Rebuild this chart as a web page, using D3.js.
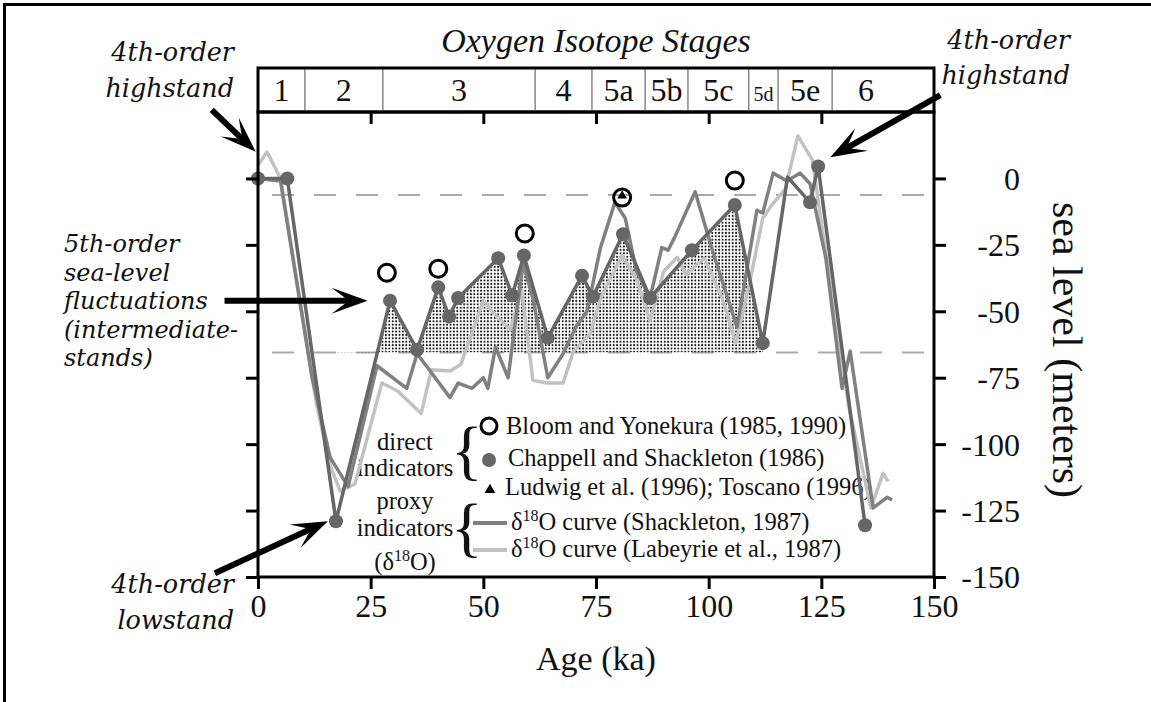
<!DOCTYPE html>
<html>
<head>
<meta charset="utf-8">
<title>Sea level and oxygen isotope stages</title>
<script src="https://d3js.org/d3.v7.min.js"></script>
<style>
    body { margin: 0; background: #fff; }
    svg text { font-family: "Liberation Serif", "Times New Roman", serif; fill: #111; }
    .note { font-family: "DejaVu Serif", serif; font-style: italic; font-size: 25.5px; }
    .note.tight { font-size: 24px; }
    .axis path.domain { display: none; }
    .axis line { stroke: #000; stroke-width: 3; }
</style>
</head>
<body>
<div id="chart"></div>
<script>
// ---- data ----
var stageNames = ['1', '2', '3', '4', '5a', '5b', '5c', '5d', '5e', '6'];
var stageBounds = [0, 10.4, 27.7, 61.5, 74.1, 85.9, 95.4, 108.9, 115.4, 127.4, 150];

var xTicks = [0, 25, 50, 75, 100, 125, 150];
var yTicks = [0, -25, -50, -75, -100, -125, -150];
var dashedLevels = [-6.2, -65.5];

// Chappell and Shackleton (1986), filled dots
var chappellAge   = [0, 6.5, 17.3, 29.3, 35.3, 40, 42.4, 44.4, 53.3, 56.4, 59, 64.3, 71.9, 74.3, 81, 87, 96.3, 105.8, 112, 122.5, 124.3, 134.7];
var chappellLevel = [0, 0, -129, -46, -64.5, -41, -52, -45, -30, -44, -29, -60, -36.6, -44.5, -21, -45, -27, -10, -62, -9, 4.5, -130.5];
// the dark line joining them also bends at 117.5 ka, where there is no dot
var chappellLineAge   = [0, 6.5, 17.3, 29.3, 35.3, 40, 42.4, 44.4, 53.3, 56.4, 59, 64.3, 71.9, 74.3, 81, 87, 96.3, 105.8, 112, 117.5, 122.5, 124.3, 134.7];
var chappellLineLevel = [0, 0, -129, -46, -64.5, -41, -52, -45, -30, -44, -29, -60, -36.6, -44.5, -21, -45, -27, -10, -62, 0.5, -9, 4.5, -130.5];

// Bloom and Yonekura (1985, 1990), open circles
var bloomAge   = [28.6, 40, 59.2, 80.8, 105.8];
var bloomLevel = [-35.5, -34, -20.7, -7.2, -0.8];

// Ludwig et al. (1996); Toscano (1996), triangle
var ludwigAge   = [80.8];
var ludwigLevel = [-6.5];

// d18O curve (Shackleton, 1987)
var shackAge   = [0, 5, 12, 16, 20, 26.4, 33, 35.3, 38, 42.6, 44.4, 47.5, 50, 51, 52.7, 55.5, 58.8, 61, 64.3, 67.7, 70.5, 73, 76, 79.2, 81.5, 84, 87, 89.6, 91, 92.5, 97, 101, 106.3, 110.7, 112, 114.3, 117.4, 120.3, 122.5, 126, 129.6, 131.4, 136.5, 139.6, 140.7];
var shackLevel = [0, -1, -75, -105, -116, -70.5, -79, -66, -72, -82.5, -77, -79, -75, -79, -63.5, -75, -32, -45, -75, -66, -56, -50, -26, -9, -15, -35, -45, -26, -27, -22, -5, -28, -56, -12, -13, 2, -1, 2, -2, -30, -79, -65, -124, -120, -121];

// d18O curve (Labeyrie et al., 1987)
var labAge   = [0, 2, 5, 13, 16, 18.2, 21.5, 27.5, 31, 36.2, 38.5, 42.6, 45, 50, 53, 56, 58.5, 61, 64, 67.7, 70, 73.7, 76, 80.8, 84, 87, 90, 93, 95, 99, 103, 106, 109, 112, 114, 117, 119.8, 123, 127, 131, 136, 138.7, 139.8];
var labLevel = [5, 10, 0, -85, -108, -117.6, -115, -77, -80, -88.5, -72, -72.5, -70, -46, -52, -57, -42, -76, -77, -77, -65, -58.5, -45, -29, -38, -53.5, -35, -29.7, -36, -30, -45, -62, -40, -15, -10, -4, 16, 7, -40, -85, -124, -111, -114];

// ---- layout ----
var width = 1151, height = 702;
var x = d3.scaleLinear().domain([0, 150]).range([258, 934]);
var y = d3.scaleLinear().domain([-150, 25]).range([577, 112]);

var svg = d3.select('#chart').append('svg')
    .attr('width', width)
    .attr('height', height);

// page frame (top and left edge of the scanned figure)
svg.append('path')
    .attr('d', 'M4.5,' + height + ' V4.5 H' + width)
    .attr('fill', 'none')
    .attr('stroke', '#000')
    .attr('stroke-width', 3);

var defs = svg.append('defs');
var pat = defs.append('pattern')
    .attr('id', 'dots')
    .attr('patternUnits', 'userSpaceOnUse')
    .attr('width', 3.4)
    .attr('height', 3.4);
pat.append('circle')
    .attr('cx', 1.7).attr('cy', 1.7).attr('r', 1.0)
    .attr('fill', '#111');

var fillBase = dashedLevels[1];
var fillEnd = chappellAge[18];
defs.append('clipPath').attr('id', 'fillClip')
    .append('rect')
    .attr('x', x(chappellAge[2]))
    .attr('y', y(25))
    .attr('width', x(fillEnd) - x(chappellAge[2]))
    .attr('height', y(fillBase) - y(25));

// dashed reference levels
svg.selectAll('.dash')
    .data(dashedLevels)
    .enter()
    .append('line')
    .attr('class', 'dash')
    .attr('x1', x(0)).attr('x2', x(150))
    .attr('y1', function (d) { return y(d); })
    .attr('y2', function (d) { return y(d); })
    .attr('stroke', '#aaa')
    .attr('stroke-width', 2)
    .attr('stroke-dasharray', '22,20')
    .attr('stroke-dashoffset', -14);

// dotted intermediate-stand area
var chappell = d3.zip(chappellAge, chappellLevel);
var area = d3.area()
    .x(function (d) { return x(d[0]); })
    .y0(y(fillBase))
    .y1(function (d) { return y(d[1]); });
svg.append('path')
    .datum(chappell.filter(function (d) { return d[0] >= chappellAge[2] && d[0] <= fillEnd; }))
    .attr('d', area)
    .attr('fill', 'url(#dots)')
    .attr('clip-path', 'url(#fillClip)');

// ---- legend (drawn under the curves, as in the figure) ----
var leg = svg.append('g').attr('font-size', 24.5);
function centered(txt, cx, by) {
    return leg.append('text').attr('x', cx).attr('y', by).attr('text-anchor', 'middle').text(txt);
}
centered('direct', 405, 450);
centered('indicators', 405, 476);
centered('proxy', 405, 509);
centered('indicators', 405, 536);
var d18 = leg.append('text').attr('x', 405).attr('y', 570).attr('text-anchor', 'middle');
d18.append('tspan').text('(δ');
d18.append('tspan').attr('font-size', 16).attr('dy', -9).text('18');
d18.append('tspan').attr('dy', 9).text('O)');

leg.append('text').attr('x', 451).attr('y', 472).attr('font-size', 66).text('{');
leg.append('text').attr('x', 451).attr('y', 549).attr('font-size', 66).text('{');

leg.append('circle').attr('cx', 489).attr('cy', 426).attr('r', 8)
    .attr('fill', 'none').attr('stroke', '#000').attr('stroke-width', 3);
leg.append('text').attr('x', 506).attr('y', 434).text('Bloom and Yonekura (1985, 1990)');
leg.append('circle').attr('cx', 489).attr('cy', 460).attr('r', 7).attr('fill', '#666');
leg.append('text').attr('x', 508).attr('y', 466).text('Chappell and Shackleton (1986)');
leg.append('path').attr('d', d3.symbol(d3.symbolTriangle, 50)())
    .attr('transform', 'translate(490,490)').attr('fill', '#000');
leg.append('text').attr('x', 505).attr('y', 495).text('Ludwig et al. (1996); Toscano (1996)');

function curveEntry(by, colour, rest) {
    leg.append('line').attr('x1', 473).attr('x2', 507).attr('y1', by - 7).attr('y2', by - 7)
        .attr('stroke', colour).attr('stroke-width', 4);
    var t = leg.append('text').attr('x', 511).attr('y', by);
    t.append('tspan').text('δ');
    t.append('tspan').attr('font-size', 16).attr('dy', -9).text('18');
    t.append('tspan').attr('dy', 9).text('O ' + rest);
}
curveEntry(530, '#808080', 'curve (Shackleton, 1987)');
curveEntry(557, '#c2c2c2', 'curve (Labeyrie et al., 1987)');

// ---- curves ----
var line = d3.line()
    .x(function (d) { return x(d[0]); })
    .y(function (d) { return y(d[1]); });

svg.append('path')
    .datum(d3.zip(labAge, labLevel))
    .attr('d', line)
    .attr('fill', 'none')
    .attr('stroke', '#c2c2c2')
    .attr('stroke-width', 3.5)
    .attr('stroke-linejoin', 'round');

svg.append('path')
    .datum(d3.zip(shackAge, shackLevel))
    .attr('d', line)
    .attr('fill', 'none')
    .attr('stroke', '#808080')
    .attr('stroke-width', 3.5)
    .attr('stroke-linejoin', 'round');

svg.append('path')
    .datum(d3.zip(chappellLineAge, chappellLineLevel))
    .attr('d', line)
    .attr('fill', 'none')
    .attr('stroke', '#666')
    .attr('stroke-width', 3.5)
    .attr('stroke-linejoin', 'round');

svg.selectAll('.chap')
    .data(chappell)
    .enter()
    .append('circle')
    .attr('class', 'chap')
    .attr('cx', function (d) { return x(d[0]); })
    .attr('cy', function (d) { return y(d[1]); })
    .attr('r', 7)
    .attr('fill', '#666');

svg.selectAll('.bloom')
    .data(d3.zip(bloomAge, bloomLevel))
    .enter()
    .append('circle')
    .attr('class', 'bloom')
    .attr('cx', function (d) { return x(d[0]); })
    .attr('cy', function (d) { return y(d[1]); })
    .attr('r', 8.5)
    .attr('fill', 'none')
    .attr('stroke', '#000')
    .attr('stroke-width', 3);

svg.selectAll('.ludwig')
    .data(d3.zip(ludwigAge, ludwigLevel))
    .enter()
    .append('path')
    .attr('class', 'ludwig')
    .attr('d', d3.symbol(d3.symbolTriangle, 40)())
    .attr('transform', function (d) { return 'translate(' + x(d[0]) + ',' + y(d[1]) + ')'; })
    .attr('fill', '#000');

// ---- axes and frame ----
svg.append('rect')
    .attr('x', x(0)).attr('y', y(25))
    .attr('width', x(150) - x(0)).attr('height', y(-150) - y(25))
    .attr('fill', 'none').attr('stroke', '#000').attr('stroke-width', 3);

var xAxis = d3.axisBottom(x).tickValues(xTicks).tickSize(12).tickPadding(5)
    .tickFormat(function (d) { return String(d); });
svg.append('g')
    .attr('class', 'axis')
    .attr('transform', 'translate(0,' + y(-150) + ')')
    .call(xAxis)
    .selectAll('text')
    .style('font-family', '"Liberation Serif", serif')
    .attr('font-size', 32)
    .attr('fill', '#111');

svg.append('g')
    .attr('class', 'axis')
    .attr('transform', 'translate(0,' + y(25) + ')')
    .call(d3.axisBottom(x).tickValues(xTicks.slice(1, -1)).tickSize(12).tickFormat(''));

svg.append('g')
    .attr('class', 'axis')
    .attr('transform', 'translate(' + x(0) + ',0)')
    .call(d3.axisLeft(y).tickValues(yTicks).tickSize(12).tickFormat(''));

var yAxis = d3.axisRight(y).tickValues(yTicks).tickSize(12)
    .tickFormat(function (d) { return String(d); });
svg.append('g')
    .attr('class', 'axis')
    .attr('transform', 'translate(' + x(150) + ',0)')
    .call(yAxis)
    .selectAll('text')
    .attr('x', 86)
    .attr('dy', '0.34em')
    .style('text-anchor', 'end')
    .style('font-family', '"Liberation Serif", serif')
    .attr('font-size', 32)
    .attr('fill', '#111');

svg.append('text')
    .attr('x', (x(0) + x(150)) / 2)
    .attr('y', 670)
    .attr('text-anchor', 'middle')
    .attr('font-size', 34)
    .text('Age (ka)');

svg.append('text')
    .attr('transform', 'translate(1068,350) rotate(90)')
    .attr('dy', '0.35em')
    .attr('text-anchor', 'middle')
    .attr('font-size', 42)
    .text('sea level (meters)');

// ---- oxygen isotope stage bar ----
var barTop = 68;
svg.append('text')
    .attr('x', (x(0) + x(150)) / 2)
    .attr('y', 52)
    .attr('text-anchor', 'middle')
    .attr('font-size', 34)
    .style('font-style', 'italic')
    .text('Oxygen Isotope Stages');

svg.selectAll('.stageLine')
    .data(stageBounds.slice(1, -1))
    .enter()
    .append('line')
    .attr('class', 'stageLine')
    .attr('x1', function (d) { return x(d); })
    .attr('x2', function (d) { return x(d); })
    .attr('y1', barTop).attr('y2', y(25))
    .attr('stroke', '#888')
    .attr('stroke-width', 1.5);

svg.selectAll('.stageName')
    .data(stageNames)
    .enter()
    .append('text')
    .attr('class', 'stageName')
    .attr('x', function (d, i) {
        var cx = x((stageBounds[i] + stageBounds[i + 1]) / 2);
        // the last label sits left of centre, clear of the arrow
        return d === '6' ? cx - 17 : cx;
    })
    .attr('y', 101)
    .attr('text-anchor', 'middle')
    .attr('font-size', function (d) { return d === '5d' ? 20 : 32; })
    .text(function (d) { return d; });

svg.append('rect')
    .attr('x', x(0)).attr('y', barTop)
    .attr('width', x(150) - x(0)).attr('height', y(25) - barTop)
    .attr('fill', 'none').attr('stroke', '#000').attr('stroke-width', 3);

// ---- annotations ----
function note(lines, ax, by, anchor, step, cls) {
    var t = svg.append('text').attr('class', 'note ' + (cls || '')).attr('text-anchor', anchor);
    lines.forEach(function (s, i) {
        t.append('tspan').attr('x', ax).attr('y', by + i * step).text(s);
    });
}
note(['4th-order', 'highstand'], 234, 61, 'end', 36);
note(['5th-order', 'sea-level', 'fluctuations', '(intermediate-', 'stands)'], 64, 252, 'start', 28.5, 'tight');
note(['4th-order', 'lowstand'], 234, 593, 'end', 36);
note(['4th-order', 'highstand'], 1070, 49, 'end', 35);

function arrow(tip, dx, dy) {
    var sx = tip[0] + dx, sy = tip[1] + dy;
    var ang = Math.atan2(-dy, -dx);
    svg.append('line')
        .attr('x1', sx).attr('y1', sy)
        .attr('x2', tip[0] - 20 * Math.cos(ang))
        .attr('y2', tip[1] - 20 * Math.sin(ang))
        .attr('stroke', '#000').attr('stroke-width', 6);
    svg.append('path')
        .attr('d', 'M0,0 L-36,-13 L-22,-2.5 L-22,2.5 L-36,13 Z')
        .attr('transform', 'translate(' + tip[0] + ',' + tip[1] + ') rotate(' + ang * 180 / Math.PI + ')')
        .attr('fill', '#000');
}
arrow([x(-0.5), y(10)], -44, -42);
arrow([x(24.3), y(chappellLevel[3])], -143, 0);
arrow([x(15.5), y(chappellLevel[2])], -113, 52);
arrow([x(127), y(8)], 110, -62);
</script>
</body>
</html>
